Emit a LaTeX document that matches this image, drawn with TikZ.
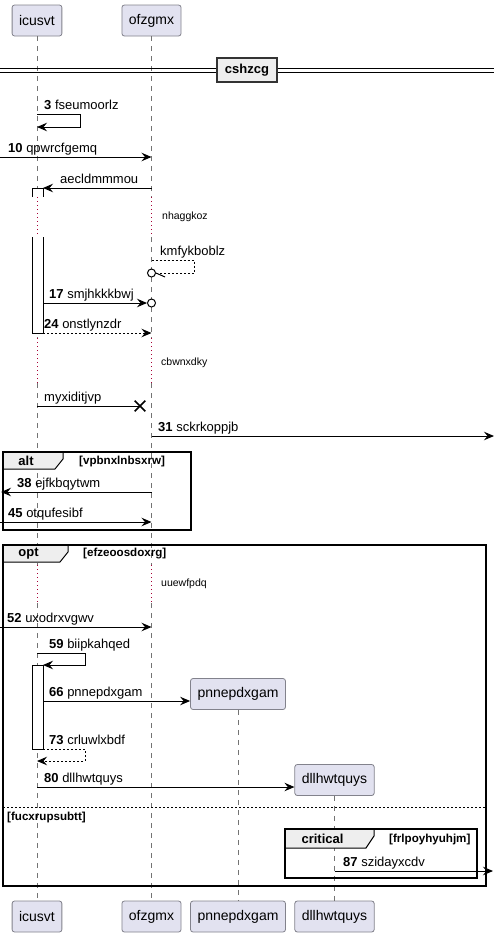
\documentclass[tikz,border=0pt]{standalone}
\usepackage{fontspec}
\setmainfont{Liberation Sans}
\usetikzlibrary{arrows.meta,positioning,shapes.misc}
\definecolor{partfill}{RGB}{226,226,240}
\definecolor{partdraw}{RGB}{130,130,140}
\definecolor{delayred}{RGB}{168,0,54}
\definecolor{tabgray}{RGB}{238,238,238}
\tikzset{
  part/.style={draw=partdraw, fill=partfill, rounded corners=2.5pt, inner xsep=7pt, inner ysep=0pt, minimum height=31pt, line width=0.8pt, font=\fontsize{14}{16}\selectfont},
  life/.style={draw=black!55, dash pattern=on 5pt off 5pt, line width=0.8pt},
  delayline/.style={draw=delayred, dash pattern=on 1pt off 3pt, line width=1pt},
  msg/.style={-{Stealth[length=10pt,width=8.5pt,inset=3.5pt]}, line width=1pt},
  reply/.style={msg, dash pattern=on 2pt off 2pt},
  lbl/.style={anchor=base west, inner sep=0pt, font=\fontsize{13}{15}\selectfont},
  delaytxt/.style={anchor=west, inner sep=0pt, font=\fontsize{10.5}{12}\selectfont},
  act/.style={draw, fill=white, line width=1pt},
  frame/.style={draw, line width=1.5pt},
  tab/.style={draw, fill=tabgray, line width=1pt},
  frametxt/.style={inner sep=0pt, font=\bfseries\fontsize{13}{15}\selectfont},
  guard/.style={anchor=west, inner sep=0pt, font=\bfseries\fontsize{11.6}{13}\selectfont},
  elsesep/.style={draw, dash pattern=on 2pt off 2pt, line width=1pt},
  divbox/.style={draw=black!80, fill=tabgray, line width=1.8pt, inner xsep=8pt, minimum height=24pt, font=\bfseries\fontsize{13}{15}\selectfont},
  circ/.style={circle, draw, fill=white, line width=1pt, minimum size=8pt, inner sep=0pt},
  lost/.style={cross out, draw, line width=1.6pt, minimum size=9pt, inner sep=0pt}
}
\begin{document}
\begin{tikzpicture}[x=1pt, y=-1pt]
  \useasboundingbox (0,0) rectangle (500,938);

  % participants
  \node[part] (icusvt) at (37,20.5) {icusvt};
  \node[part] (ofzgmx) at (151.5,20.5) {ofzgmx};
  \node[part] (pnnepdxgam) at (238,694) {pnnepdxgam};
  \node[part] (dllhwtquys) at (334.5,780) {dllhwtquys};
  \coordinate (bot) at (0,916.5);
  \foreach \p in {icusvt,ofzgmx,pnnepdxgam,dllhwtquys}
    \node[part] (\p-end) at (\p |- bot) {\p};

  % lifelines with delays
  \coordinate (dA1) at (0,197); \coordinate (dB1) at (0,237);
  \coordinate (dA2) at (0,338); \coordinate (dB2) at (0,383);
  \coordinate (dA3) at (0,565); \coordinate (dB3) at (0,603);
  \foreach \p in {icusvt,ofzgmx}{
    \draw[life] (\p.south) -- (\p |- dA1) (\p |- dB1) -- (\p |- dA2)
                (\p |- dB2) -- (\p |- dA3) (\p |- dB3) -- (\p-end.north);
    \foreach \i in {1,2,3}
      \draw[delayline] (\p |- dA\i) -- (\p |- dB\i);
  }
  \foreach \p in {pnnepdxgam,dllhwtquys}
    \draw[life] (\p.south) -- (\p-end.north);
  \node[delaytxt] (nhaggkoz) at (162,217) {nhaggkoz};
  \node[delaytxt] (cbwnxdky) at (161,363) {cbwnxdky};
  \node[delaytxt] (uuewfpdq) at (161,584) {uuewfpdq};

  % divider
  \draw[line width=1pt] (0,68) -- (494,68) (0,72) -- (494,72);
  \node[divbox] (cshzcg) at (247,70) {cshzcg};

  % frames
  \draw[tab] (3,452) -- (63,452) -- (63,459) -- (55,469) -- (3,469) -- cycle;
  \draw[frame] (3,452) rectangle (191,530);
  \node[frametxt] (alt) at (26,461) {alt};
  \node[guard] (g-alt) at (79,461) {[vpbnxlnbsxrw]};

  \draw[tab] (3,545) -- (68,545) -- (68,552) -- (60,562) -- (3,562) -- cycle;
  \draw[frame] (3,545) rectangle (486,886);
  \node[frametxt] (opt) at (28.5,553.5) {opt};
  \node[guard] (g-opt) at (83,553.5) {[efzeoosdoxrg]};
  \draw[elsesep] (3,807) -- (486,807);
  \node[guard] (g-else) at (7,817) {[fucxrupsubtt]};

  \draw[tab] (285,829) -- (374,829) -- (374,836) -- (366,848) -- (285,848) -- cycle;
  \draw[frame] (285,829) rectangle (477,878);
  \node[frametxt] (critical) at (322.5,839) {critical};
  \node[guard] (g-crit) at (389,839) {[frlpoyhyuhjm]};

  % activations
  \draw[act] (32,197) |- (43,188) -- (43,197);
  \draw[act] (32,237) |- (43,333) -- (43,237);
  \draw[act] (32,665) rectangle (43,749);

  % messages
  \coordinate (m3) at (37,114); \coordinate (m3t) at (80,127);
  \draw[msg] (m3) -| (m3t) -- (icusvt |- m3t);
  \node[lbl] (l3) at (44,109.5) {\textbf{3} fseumoorlz};

  \coordinate (m10) at (0,157);
  \draw[msg] (m10) -- (ofzgmx |- m10);
  \node[lbl] (l10) at (8,152.5) {\textbf{10} qpwrcfgemq};

  \coordinate (m-ae) at (43,188);
  \draw[msg] (ofzgmx |- m-ae) -- (m-ae);
  \node[lbl] (l-ae) at (60,183.5) {aecldmmmou};

  \coordinate (m-km) at (194,260);
  \node[circ] (km-end) at (151.5,273) {};
  \draw[reply,-] (ofzgmx |- m-km) -- (m-km) -- (m-km |- km-end) -- (km-end.east);
  \draw[line width=1pt] (km-end.east) -- ++(9,4);
  \node[lbl] (l-km) at (160,255.5) {kmfykboblz};

  \coordinate (m17) at (43,303);
  \node[circ] (c17) at (ofzgmx |- m17) {};
  \draw[msg] (m17) -- (c17.west);
  \node[lbl] (l17) at (49,298.5) {\textbf{17} smjhkkkbwj};

  \coordinate (m24) at (43,333);
  \draw[reply] (m24) -- (ofzgmx |- m24);
  \node[lbl] (l24) at (44,328.5) {\textbf{24} onstlynzdr};

  \coordinate (m-my) at (37,406);
  \node[lost] (x-my) at (140,406) {};
  \draw[line width=1pt] (m-my) -- (x-my.center);
  \node[lbl] (l-my) at (44,401.5) {myxiditjvp};

  \coordinate (m31) at (494,436);
  \draw[msg] (ofzgmx |- m31) -- (m31);
  \node[lbl] (l31) at (158,431.5) {\textbf{31} sckrkoppjb};

  \coordinate (m38) at (1,492);
  \draw[msg] (ofzgmx |- m38) -- (m38);
  \node[lbl] (l38) at (17,487.5) {\textbf{38} ejfkbqytwm};

  \coordinate (m45) at (0,522);
  \draw[msg] (m45) -- (ofzgmx |- m45);
  \node[lbl] (l45) at (8,517.5) {\textbf{45} otqufesibf};

  \coordinate (m52) at (0,627);
  \draw[msg] (m52) -- (ofzgmx |- m52);
  \node[lbl] (l52) at (7,622.5) {\textbf{52} uxodrxvgwv};

  \coordinate (m59) at (37,653); \coordinate (m59t) at (85,665); \coordinate (m59e) at (43,665);
  \draw[msg] (m59) -| (m59t) -- (m59e);
  \node[lbl] (l59) at (49,648.5) {\textbf{59} biipkahqed};

  \coordinate (m66) at (43,701);
  \draw[msg] (m66) -- (pnnepdxgam.west |- m66);
  \node[lbl] (l66) at (49,696.5) {\textbf{66} pnnepdxgam};

  \coordinate (m73) at (43,749); \coordinate (m73t) at (85,761);
  \draw[reply] (m73) -| (m73t) -- (icusvt |- m73t);
  \node[lbl] (l73) at (49,744.5) {\textbf{73} crluwlxbdf};

  \coordinate (m80) at (37,787);
  \draw[msg] (m80) -- (dllhwtquys.west |- m80);
  \node[lbl] (l80) at (44,782.5) {\textbf{80} dllhwtquys};

  \coordinate (m87) at (493,871);
  \draw[msg] (dllhwtquys |- m87) -- (m87);
  \node[lbl] (l87) at (343,866.5) {\textbf{87} szidayxcdv};
\end{tikzpicture}
\end{document}
